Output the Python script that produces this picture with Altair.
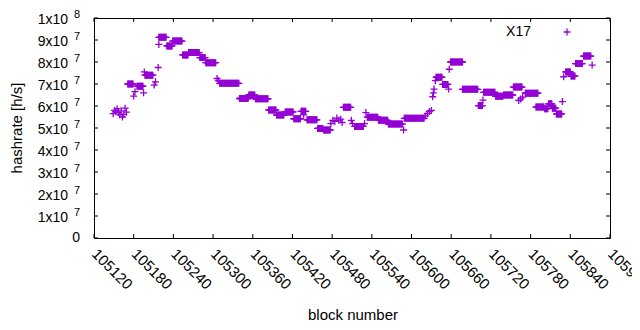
import altair as alt
import pandas as pd

# ---------------- data (hashrate in units of 1e7 h/s) ----------------
# runs of consecutive blocks sharing the same hashrate estimate
run_start = [105171, 105185, 105197, 105218, 105230, 105239, 105254, 105263, 105280, 105289,
             105310, 105340, 105354, 105364, 105384, 105396, 105409, 105422, 105433, 105442,
             105458, 105467, 105497, 105514, 105533, 105550, 105565, 105589, 105637, 105647,
             105659, 105677, 105701, 105709, 105727, 105739, 105754, 105772, 105788, 105801,
             105807, 105813, 105819, 105833, 105841, 105848, 105860]
run_end = [105179, 105194, 105209, 105229, 105238, 105253, 105262, 105279, 105288, 105304,
           105339, 105353, 105363, 105383, 105395, 105407, 105421, 105432, 105440, 105457,
           105466, 105477, 105508, 105527, 105549, 105564, 105586, 105619, 105646, 105655,
           105677, 105700, 105707, 105726, 105738, 105753, 105767, 105791, 105800, 105806,
           105812, 105818, 105827, 105840, 105847, 105858, 105871]
run_value = [7.0, 6.9, 7.4, 9.12, 8.73, 8.95, 8.32, 8.43, 8.2, 7.97,
             7.03, 6.34, 6.5, 6.33, 5.82, 5.59, 5.73, 5.42, 5.76, 5.37,
             4.98, 4.91, 5.94, 5.07, 5.49, 5.35, 5.18, 5.44, 7.31, 6.98,
             8.0, 6.76, 6.02, 6.62, 6.44, 6.5, 6.86, 6.58, 5.95, 5.88,
             6.1, 5.9, 5.64, 7.55, 7.36, 7.93, 8.27]

# isolated blocks
single_block = [105149, 105151, 105153, 105155, 105157, 105159, 105161, 105163, 105165, 105167, 105169,
                105180, 105182, 105195, 105196, 105211, 105213, 105217, 105218,
                105306, 105308, 105437,
                105478, 105481, 105484, 105487, 105490, 105493, 105495,
                105509, 105511, 105529, 105531, 105588,
                105621, 105624, 105627, 105630, 105632, 105633, 105634, 105636,
                105656, 105657, 105708, 105762, 105765, 105768,
                105828, 105830, 105873]
single_value = [5.65, 5.8, 5.75, 5.88, 5.7, 5.6, 5.78, 5.5, 5.62, 5.9, 5.72,
                6.45, 6.65, 6.6, 7.55, 6.95, 7.1, 7.75, 8.8,
                7.25, 7.15, 5.6,
                5.2, 5.35, 5.3, 5.45, 5.35, 5.4, 5.25,
                5.35, 5.2, 5.2, 5.7, 4.91,
                5.55, 5.65, 5.75, 5.8, 6.42, 6.6, 6.77, 7.15,
                6.77, 7.67, 6.27, 6.25, 6.32, 6.4,
                6.2, 7.33, 7.86]

x_ticks = [105120, 105180, 105240, 105300, 105360, 105420, 105480,
           105540, 105600, 105660, 105720, 105780, 105840, 105900]
y_ticks = [0, 1e7, 2e7, 3e7, 4e7, 5e7, 6e7, 7e7, 8e7, 9e7, 1e8]
y_base = ["0", "1x10", "2x10", "3x10", "4x10", "5x10", "6x10", "7x10", "8x10", "9x10", "1x10"]
y_exp = ["", "7", "7", "7", "7", "7", "7", "7", "7", "7", "8"]

series_name = "X17"
x_title = "block number"
y_title = "hashrate [h/s]"

# ---------------- build tables ----------------
rows = []
for s, e, v in zip(run_start, run_end, run_value):
    for b in range(s, e + 1):
        rows.append({"block": b, "hashrate": v * 1e7})
for b, v in zip(single_block, single_value):
    rows.append({"block": b, "hashrate": v * 1e7})
df = pd.DataFrame(rows)

ylab = pd.DataFrame({"hashrate": y_ticks, "base": y_base, "exp": y_exp})
ylab_nz = ylab[ylab["hashrate"] > 0]
ylab_z = ylab[ylab["hashrate"] == 0]
xt = pd.DataFrame({"block": x_ticks})

W, H = 516, 220
FONT = "Liberation Sans"
PURPLE = "#9400d3"
PLUS = "M-1,0L1,0M0,-1L0,1"

xs = alt.Scale(domain=[x_ticks[0], x_ticks[-1]], nice=False, zero=False)
ys = alt.Scale(domain=[0, 1e8], nice=False, zero=True)
x_axis = alt.Axis(values=x_ticks, title=None, labelAngle=45, labelAlign="left",
                  labelBaseline="middle", labelPadding=13, ticks=False, domain=False,
                  grid=False, labelFont=FONT, labelFontSize=15, labelColor="black",
                  labelOverlap=False, labelFlush=False, format="d")

X = alt.X("block:Q", scale=xs, axis=x_axis)
Y = alt.Y("hashrate:Q", scale=ys, axis=None)

points = alt.Chart(df).mark_point(shape=PLUS, filled=False, size=49, strokeWidth=1.3,
                                  color=PURPLE, opacity=1).encode(x=X, y=Y)

xt_bottom = alt.Chart(xt).mark_rule(color="black", strokeWidth=1).encode(
    x=X, y=alt.value(H), y2=alt.value(H - 4))
xt_top = alt.Chart(xt).mark_rule(color="black", strokeWidth=1).encode(
    x=X, y=alt.value(0), y2=alt.value(4))
yt_left = alt.Chart(ylab).mark_rule(color="black", strokeWidth=1).encode(
    y=Y, x=alt.value(0), x2=alt.value(4))
yt_right = alt.Chart(ylab).mark_rule(color="black", strokeWidth=1).encode(
    y=Y, x=alt.value(W - 4), x2=alt.value(W))

ybase = alt.Chart(ylab_nz).mark_text(align="right", baseline="middle", font=FONT,
                                     fontSize=14, color="black", dy=1.5).encode(
    y=Y, x=alt.value(-26), text="base:N")
yexp = alt.Chart(ylab_nz).mark_text(align="right", baseline="middle", font=FONT,
                                    fontSize=11, color="black", dy=-3.5).encode(
    y=Y, x=alt.value(-14), text="exp:N")
yzero = alt.Chart(ylab_z).mark_text(align="right", baseline="middle", font=FONT,
                                    fontSize=14, color="black").encode(
    y=Y, x=alt.value(-14), text="base:N")

xtitle = alt.Chart(pd.DataFrame({"t": [x_title]})).mark_text(
    font=FONT, fontSize=15, color="black", align="center", baseline="middle").encode(
    text="t:N", x=alt.value(W / 2 + 1), y=alt.value(297))
ytitle = alt.Chart(pd.DataFrame({"t": [y_title]})).mark_text(
    font=FONT, fontSize=15, color="black", align="center", baseline="middle", angle=270).encode(
    text="t:N", x=alt.value(-77), y=alt.value(H / 2))

leg_text = alt.Chart(pd.DataFrame({"t": [series_name]})).mark_text(
    font=FONT, fontSize=14, color="black", align="right", baseline="middle").encode(
    text="t:N", x=alt.value(437), y=alt.value(14))
leg_mark = alt.Chart(pd.DataFrame({"t": [series_name]})).mark_point(
    shape=PLUS, filled=False, size=49, strokeWidth=1.3, color=PURPLE, opacity=1).encode(
    x=alt.value(473), y=alt.value(14))

chart = alt.layer(points, xt_bottom, xt_top, yt_left, yt_right, ybase, yexp, yzero,
                  xtitle, ytitle, leg_text, leg_mark).properties(
    width=W, height=H,
    autosize=alt.AutoSizeParams(type="none"),
    padding={"left": 86, "top": 10, "right": 22, "bottom": 84},
    background="white",
).configure_view(stroke="black", strokeWidth=1)

chart.save("out.html", embed_options={"renderer": "svg", "actions": False})
